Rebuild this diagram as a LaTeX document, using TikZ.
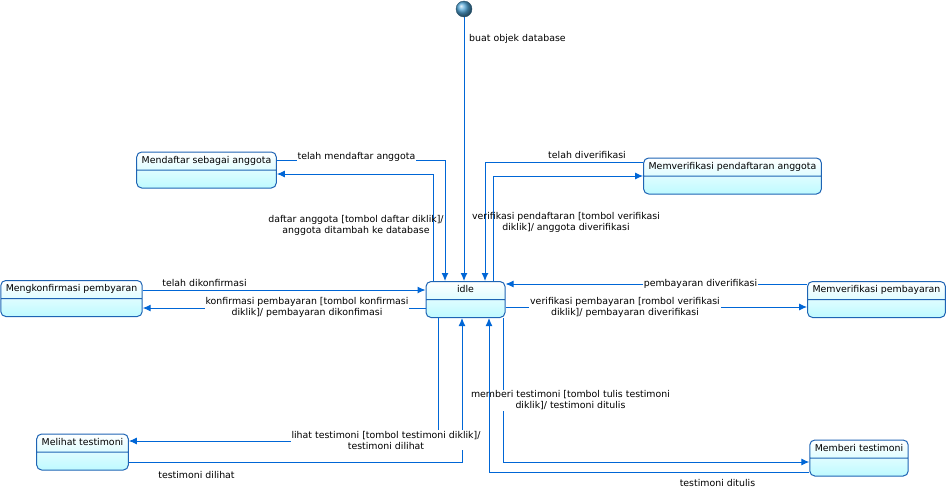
\documentclass[tikz,border=0pt]{standalone}
\usepackage{fontspec}
\setmainfont{DejaVu Sans}
\usetikzlibrary{shapes.multipart,arrows.meta}

\definecolor{trline}{RGB}{0,102,214}
\definecolor{stborder}{RGB}{30,100,180}
\definecolor{stfill}{RGB}{190,250,255}
\definecolor{initblue}{RGB}{80,165,215}

\tikzset{
  stbox/.style={rectangle split, rectangle split parts=2, draw=stborder, line width=1pt,
    rounded corners=5pt, top color=white, bottom color=stfill,
    inner xsep=5pt, inner ysep=3pt, font=\fontsize{9.4}{11}\selectfont},
  trans/.style={draw=trline, line width=1pt, -{Latex[length=8pt,width=7pt]}},
  lbl/.style={font=\fontsize{9.4}{11}\selectfont, inner sep=1pt, align=center},
}

\begin{document}
\begin{tikzpicture}[x=1pt,y=-1pt]
      \useasboundingbox (0,0) rectangle (947,491);
      % states
      \node[circle, draw=initblue!50!black, ball color=initblue, minimum size=16pt, inner sep=0pt] (init) at (464,9) {};
      \node[stbox, minimum width=79pt] (idle) at (465.5,299.5) {\strut idle\nodepart{two}\strut};
      \node[stbox] (daftar) at (206.5,170) {\strut Mendaftar sebagai anggota\nodepart{two}\strut};
      \node[stbox] (verdaftar) at (732.5,176) {\strut Memverifikasi pendaftaran anggota\nodepart{two}\strut};
      \node[stbox] (konfirm) at (71.5,298.5) {\strut Mengkonfirmasi pembyaran\nodepart{two}\strut};
      \node[stbox] (verbayar) at (876.5,299.5) {\strut Memverifikasi pembayaran\nodepart{two}\strut};
      \node[stbox] (lihat) at (82.5,452) {\strut Melihat testimoni\nodepart{two}\strut};
      \node[stbox] (beri) at (859,458) {\strut Memberi testimoni\nodepart{two}\strut};
      % transitions
      \draw[trans] (init) -- (init.south |- idle.north);
      \draw[trans] (daftar.east |- 0,160) -| (idle.north -| 445,0);
      \draw[trans] (idle.north -| 433,0) |- (daftar.east |- 0,174);
      \draw[trans] (verdaftar.west |- 0,162) -| (idle.north -| 485,0);
      \draw[trans] (idle.north -| 493,0) |- (verdaftar.west);
      \draw[trans] (konfirm.east |- 0,290) -- (idle.west |- 0,290);
      \draw[trans] (idle.west |- 0,308) -- (konfirm.east |- 0,308);
      \draw[trans] (verbayar.west |- 0,284) -- (idle.east |- 0,284);
      \draw[trans] (idle.east |- 0,307) -- (verbayar.west |- 0,307);
      \draw[trans] (idle.south -| 438,0) |- (lihat.east |- 0,441);
      \draw[trans] (lihat.east |- 0,462) -| (idle.south -| 462,0);
      \draw[trans] (idle.south -| 503,0) |- (beri.west |- 0,462);
      % labels
      \node[lbl, anchor=west] (tbuat) at (468,39) {buat objek database};
      \node[lbl, fill=white] (tdaftar) at (356.5,157) {telah mendaftar anggota};
      \node[lbl] (tdaftarkan) at (356,225.5) {daftar anggota [tombol daftar diklik]/\\anggota ditambah ke database};
      \node[lbl] (tverif) at (587,155) {telah diverifikasi};
      \node[lbl] (tverifkan) at (566,222) {verifikasi pendaftaran [tombol verifikasi\\diklik]/ anggota diverifikasi};
      \node[lbl] (tkonfirm) at (204.5,283) {telah dikonfirmasi};
      \node[lbl, fill=white] (tkonfirmkan) at (307,307.5) {konfirmasi pembayaran [tombol konfirmasi\\diklik]/ pembayaran dikonfimasi};
      \node[lbl, fill=white] (tbayar) at (700.5,283.5) {pembayaran diverifikasi};
      \node[lbl, fill=white] (tbayarkan) at (625,307.5) {verifikasi pembayaran [rombol verifikasi\\diklik]/ pembayaran diverifikasi};
      \node[lbl, fill=white] (tlihatkan) at (386,440) {lihat testimoni [tombol testimoni diklik]/\\testimoni dilihat};
      \node[lbl] (tlihat) at (196.5,475) {testimoni dilihat};
      \node[lbl, fill=white] (tberikan) at (570.5,400.5) {memberi testimoni [tombol tulis testimoni\\diklik]/ testimoni ditulis};
      \node[lbl] (tberi) at (717.5,483) {testimoni ditulis};
      \draw[trans] (beri.west |- 0,472) -| (idle.south -| 489,0);
\end{tikzpicture}
\end{document}
